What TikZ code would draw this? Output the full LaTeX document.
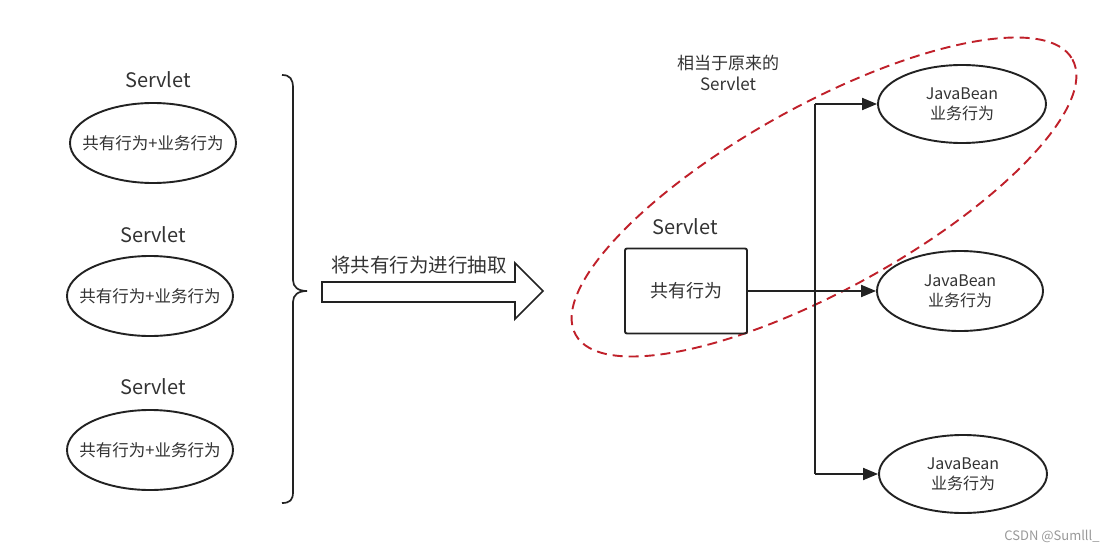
\documentclass[tikz,border=0pt]{standalone}
\usepackage{fontspec}
\setmainfont{Noto Sans CJK SC}
\usetikzlibrary{shapes.geometric,arrows.meta}
\definecolor{ink}{HTML}{222222}
\definecolor{txt}{HTML}{333333}
\definecolor{dred}{HTML}{C0202A}
\tikzset{
  oval/.style={ellipse, draw=ink, line width=1.9pt, minimum width=166pt, minimum height=80pt, inner sep=0pt, text=txt, font=\fontsize{16.5}{19}\selectfont, align=center},
  lbl/.style={text=txt, font=\fontsize{20}{24}\selectfont, inner sep=0pt},
  conn/.style={draw=ink, line width=1.9pt},
  arr/.style={conn, -{Triangle[length=15pt,width=12pt]}},
}
\begin{document}
\begin{tikzpicture}[x=1pt,y=-1pt]
\path[use as bounding box, fill=white] (0,0) rectangle (1112,551);

% left servlets
\node[lbl] (s1) at (158,80) {Servlet};
\node[oval, inner xsep=-20pt] (e1) at (153,143) {共有行为+业务行为};
\node[lbl] (s2) at (153,235) {Servlet};
\node[oval, inner xsep=-20pt] (e2) at (150,296) {共有行为+业务行为};
\node[lbl] (s3) at (153,387) {Servlet};
\node[oval, inner xsep=-20pt] (e3) at (150,450) {共有行为+业务行为};

% brace
\draw[conn, line width=1.7pt] (282,75) .. controls (290,75) and (293,79) .. (293,88) -- (293,280)
  .. controls (293,287) and (298,291) .. (307,291)
  .. controls (298,291) and (293,295) .. (293,302) -- (293,492)
  .. controls (293,500) and (290,503) .. (282,503);

% big arrow
\node[lbl, font=\fontsize{19.5}{22}\selectfont] (extract) at (419,265) {将共有行为进行抽取};
\draw[draw=ink, line width=1.7pt, fill=white] (322,282) -- (515,282) -- (515,263) -- (543,291) -- (515,319) -- (515,302) -- (322,302) -- cycle;

% dashed region
\draw[dred, line width=1.9pt, dash pattern=on 10pt off 6pt, shift={(824,197)}, rotate=29] (0,0) ellipse [x radius=284, y radius=92];
\node[text=txt, font=\fontsize{17}{21}\selectfont, align=center, inner sep=0pt] (note) at (728,73) {相当于原来的\\Servlet};

% servlet box
\node[lbl] (s4) at (685,227) {Servlet};
\node[draw=ink, line width=1.9pt, rounded corners=2pt, minimum width=122pt, minimum height=85pt, inner sep=0pt, text=txt, font=\fontsize{18}{20}\selectfont] (box) at (686,291) {共有行为};

% javabeans
\node[oval, font=\fontsize{16}{20}\selectfont, minimum width=168pt, minimum height=78pt] (jb1) at (962,104) {JavaBean\\业务行为};
\node[oval, font=\fontsize{16}{20}\selectfont, minimum width=166pt, minimum height=80pt] (jb2) at (960,291) {JavaBean\\业务行为};
\node[oval, font=\fontsize{16}{20}\selectfont, minimum width=168pt, minimum height=78pt] (jb3) at (963,474) {JavaBean\\业务行为};

\coordinate (v1) at (815,104);
\coordinate (v3) at (815,474);
\draw[conn] (v1) -- (v3);
\draw[arr] (v1) -- (jb1);
\draw[arr] (v3) -- (jb3);
\draw[arr] (box.east) -- (jb2);

\node[text=gray!80, font=\fontsize{13}{15}\selectfont, inner sep=0pt] (wm) at (1052,536) {CSDN @Sumlll\_};
\end{tikzpicture}
\end{document}
